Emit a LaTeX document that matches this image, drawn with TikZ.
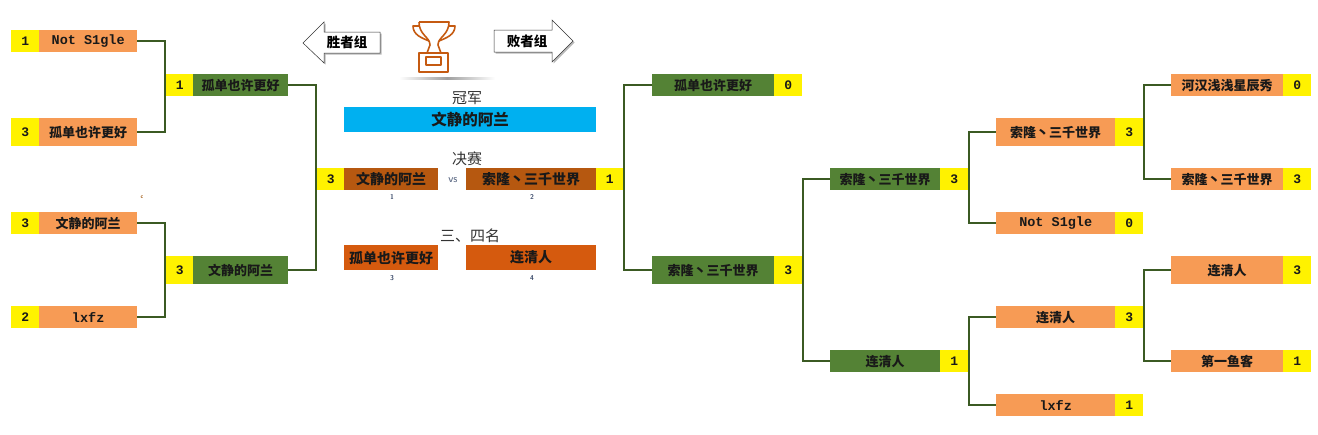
\documentclass[tikz,border=0pt]{standalone}
\usepackage{fontspec}
\newfontfamily\cjk{Noto Sans CJK SC}
\newfontfamily\monob{Liberation Mono}
\definecolor{orgfill}{HTML}{F79B55}
\definecolor{grnfill}{HTML}{548235}
\definecolor{linkgreen}{HTML}{3B5A23}
\definecolor{champblue}{HTML}{00B0F0}
\definecolor{finalbrown}{HTML}{B65810}
\definecolor{thirdorange}{HTML}{D55A0E}
\definecolor{trophyorange}{HTML}{C55A11}
\definecolor{labelgray}{HTML}{333333}
\definecolor{rankblue}{HTML}{3A4A6A}
\tikzset{
  box/.style={anchor=north west, inner sep=0pt, minimum height=22pt, text=black!90,
    font=\cjk\bfseries\fontsize{13}{15}\selectfont},
  orgbox/.style={box, fill=orgfill},
  grnbox/.style={box, fill=grnfill},
  scorebox/.style={box, fill=yellow, minimum width=28pt, font=\monob\bfseries\fontsize{13}{15}\selectfont},
  latin/.style={font=\monob\bfseries\fontsize{13.5}{15}\selectfont},
  link/.style={draw=linkgreen, line width=2pt},
  heading/.style={text=labelgray, font=\cjk\fontsize{15}{17}\selectfont, inner sep=0pt},
  rank/.style={text=rankblue, font=\sffamily\bfseries\fontsize{7}{8}\selectfont, inner sep=0pt},
  groupsign/.style={fill=white, draw=black!80, line width=0.5pt},
  trophy/.style={draw=trophyorange, line width=1.6pt, line join=round},
}
\begin{document}
\begin{tikzpicture}[x=1pt,y=1pt,yscale=-1,xscale=1]
\useasboundingbox (0,0) rectangle (1318,434);

% left bracket, first round
\node (ls1) at (11,30) [scorebox] {1};
\node (ln1) at (39,30) [orgbox, minimum width=98pt, latin] {Not S1gle};
\node (ls2) at (11,118) [scorebox, minimum height=28pt] {3};
\node (ln2) at (39,118) [orgbox, minimum width=98pt, minimum height=28pt] {孤单也许更好};
\node (ls3) at (11,212) [scorebox] {3};
\node (ln3) at (39,212) [orgbox, minimum width=98pt] {文静的阿兰};
\node (ls4) at (11,306) [scorebox] {2};
\node (ln4) at (39,306) [orgbox, minimum width=98pt, latin] {lxfz};
\node (stray) at (142,197) [inner sep=0pt, text=orange!60!black, font=\sffamily\bfseries\fontsize{5.5}{6}\selectfont] {c};

% left bracket, second round
\node (l2s1) at (166,74) [scorebox, minimum width=27pt] {1};
\node (l2n1) at (193,74) [grnbox, minimum width=95pt] {孤单也许更好};
\node (l2s2) at (166,256) [scorebox, minimum width=27pt, minimum height=28pt] {3};
\node (l2n2) at (193,256) [grnbox, minimum width=95pt, minimum height=28pt] {文静的阿兰};

% final
\node (fls) at (317,168) [scorebox, minimum width=27pt] {3};
\node (fln) at (344,168) [box, fill=finalbrown, minimum width=94pt, font=\cjk\bfseries\fontsize{14}{16}\selectfont] {文静的阿兰};
\node (frn) at (466,168) [box, fill=finalbrown, minimum width=130pt, font=\cjk\bfseries\fontsize{14}{16}\selectfont] {索隆丶三千世界};
\node (frs) at (596,168) [scorebox, minimum width=27pt] {1};
\node (vs) at (453,180) [text=rankblue!80, font=\sffamily\bfseries\fontsize{7}{8}\selectfont, inner sep=0pt] {VS};
\node (rk1) at (392,197) [rank] {1};
\node (rk2) at (532,197) [rank] {2};

% champion
\node (champtitle) at (467,98) [heading] {冠军};
\node (champ) at (344,107) [box, fill=champblue, minimum width=252pt, minimum height=25pt, font=\cjk\bfseries\fontsize{15.5}{17}\selectfont] {文静的阿兰};
\node (finaltitle) at (467,159) [heading] {决赛};

% third and fourth
\node (thirdtitle) at (470,236) [heading] {三、四名};
\node (third) at (344,245) [box, fill=thirdorange, minimum width=94pt, minimum height=25pt, font=\cjk\bfseries\fontsize{14}{16}\selectfont] {孤单也许更好};
\node (fourth) at (466,245) [box, fill=thirdorange, minimum width=130pt, minimum height=25pt, font=\cjk\bfseries\fontsize{14}{16}\selectfont] {连清人};
\node (rk3) at (392,278) [rank] {3};
\node (rk4) at (532,278) [rank] {4};

% right bracket, first column
\node (r1n1) at (652,74) [grnbox, minimum width=122pt] {孤单也许更好};
\node (r1s1) at (774,74) [scorebox] {0};
\node (r1n2) at (652,256) [grnbox, minimum width=122pt, minimum height=28pt] {索隆丶三千世界};
\node (r1s2) at (774,256) [scorebox, minimum height=28pt] {3};

% right bracket, second column
\node (r2n1) at (830,168) [grnbox, minimum width=110pt] {索隆丶三千世界};
\node (r2s1) at (940,168) [scorebox] {3};
\node (r2n2) at (830,350) [grnbox, minimum width=110pt] {连清人};
\node (r2s2) at (940,350) [scorebox] {1};

% right bracket, third column
\node (r3n1) at (996,118) [orgbox, minimum width=119pt, minimum height=28pt] {索隆丶三千世界};
\node (r3s1) at (1115,118) [scorebox, minimum height=28pt] {3};
\node (r3n2) at (996,212) [orgbox, minimum width=119pt, latin] {Not S1gle};
\node (r3s2) at (1115,212) [scorebox] {0};
\node (r3n3) at (996,306) [orgbox, minimum width=119pt] {连清人};
\node (r3s3) at (1115,306) [scorebox] {3};
\node (r3n4) at (996,394) [orgbox, minimum width=119pt, latin] {lxfz};
\node (r3s4) at (1115,394) [scorebox] {1};

% right bracket, fourth column
\node (r4n1) at (1171,74) [orgbox, minimum width=112pt] {河汉浅浅星辰秀};
\node (r4s1) at (1283,74) [scorebox] {0};
\node (r4n2) at (1171,168) [orgbox, minimum width=112pt] {索隆丶三千世界};
\node (r4s2) at (1283,168) [scorebox] {3};
\node (r4n3) at (1171,256) [orgbox, minimum width=112pt, minimum height=28pt] {连清人};
\node (r4s3) at (1283,256) [scorebox, minimum height=28pt] {3};
\node (r4n4) at (1171,350) [orgbox, minimum width=112pt] {第一鱼客};
\node (r4s4) at (1283,350) [scorebox] {1};

% connectors
\draw[link] (ln1.east) -| ([xshift=-1pt]l2s1.west) |- (ln2.east);
\draw[link] (ln3.east) -| ([xshift=-1pt]l2s2.west) |- (ln4.east);
\draw[link] (l2n1.east) -| ([xshift=-1pt]fls.west) |- (l2n2.east);
\draw[link] (r1n1.west) -| ([xshift=1pt]frs.east) |- (r1n2.west);
\draw[link] (r2n1.west) -| ([xshift=1pt]r1s2.east) |- (r2n2.west);
\draw[link] (r3n1.west) -| ([xshift=1pt]r2s1.east) |- (r3n2.west);
\draw[link] (r3n3.west) -| ([xshift=1pt]r2s2.east) |- (r3n4.west);
\draw[link] (r4n1.west) -| ([xshift=1pt]r3s1.east) |- (r4n2.west);
\draw[link] (r4n3.west) -| ([xshift=1pt]r3s3.east) |- (r4n4.west);

% group signs
\fill[gray!55] (304.5,44.5) -- (325.5,23.5) -- (325.5,33.5) -- (381.5,33.5) -- (381.5,54.5) -- (325.5,54.5) -- (325.5,64.5) -- cycle;
\draw[groupsign] (303,43) -- (324,22) -- (324,32) -- (380,32) -- (380,53) -- (324,53) -- (324,63) -- cycle;
\node (winners) at (347,42.5) [inner sep=0pt, font=\cjk\bfseries\fontsize{13.5}{15}\selectfont] {胜者组};
\fill[gray!55] (495.5,31.5) -- (553.5,31.5) -- (553.5,21.5) -- (574.5,42.5) -- (553.5,63.5) -- (553.5,53.5) -- (495.5,53.5) -- cycle;
\draw[groupsign] (494,30) -- (552,30) -- (552,20) -- (573,41) -- (552,62) -- (552,52) -- (494,52) -- cycle;
\node (losers) at (527,41) [inner sep=0pt, font=\cjk\bfseries\fontsize{13.5}{15}\selectfont] {败者组};

% trophy
\shade[left color=white, right color=white, middle color=gray!75] (399,77) rectangle (495,79.5);
\draw[trophy] (419,22) -- (449,22) .. controls (449,35) and (438,37) .. (438,45) -- (441,53);
\draw[trophy] (419,22) .. controls (419,35) and (430,37) .. (430,45) -- (427,53);
\draw[trophy] (419,26) -- (413,26) .. controls (413,35) and (422,38) .. (429,41);
\draw[trophy] (449,26) -- (455,26) .. controls (455,35) and (446,38) .. (439,41);
\draw[trophy] (419,53) rectangle (448,72);
\draw[trophy] (426,57) rectangle (441,65);
\end{tikzpicture}
\end{document}
